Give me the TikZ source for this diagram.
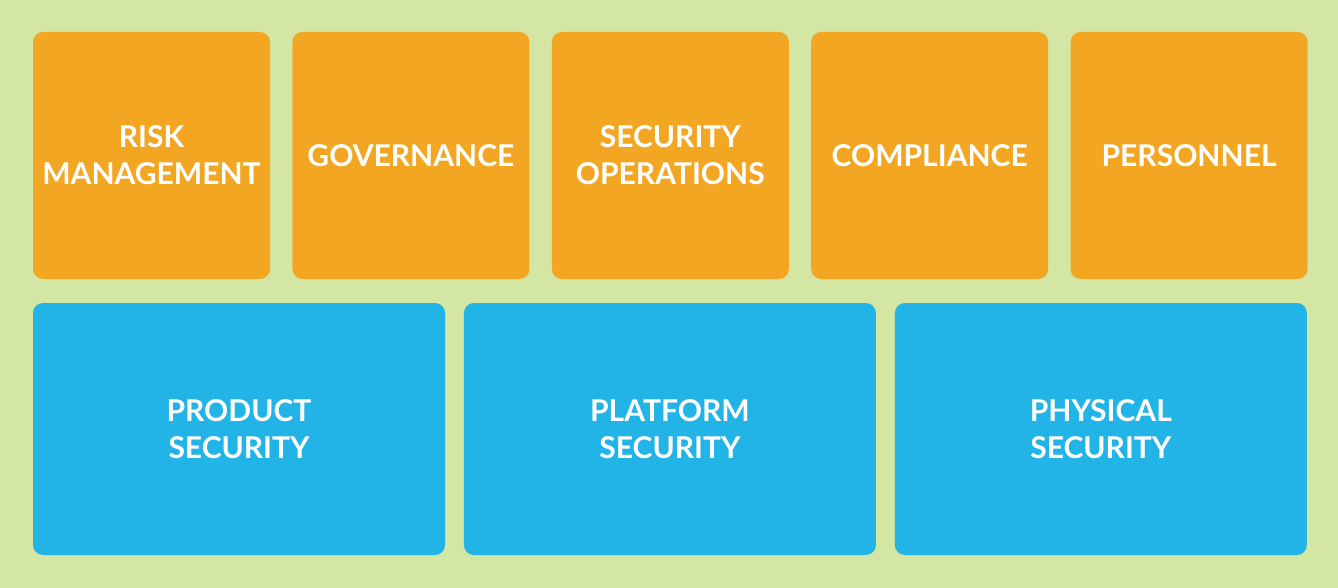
\documentclass[tikz,border=0pt]{standalone}
\usepackage{fontspec}
\setmainfont{Lato}
\usepackage{tikz}
\usetikzlibrary{positioning}

\definecolor{bggreen}{HTML}{D3E6A4}
\definecolor{areaorange}{HTML}{F3A621}
\definecolor{areablue}{HTML}{23B4E7}

\begin{document}
\begin{tikzpicture}[x=1pt, y=-1pt,
		area/.style={rounded corners=10pt, inner sep=0pt, align=center, text=white,
			font=\fontsize{30}{37}\selectfont\bfseries},
		top/.style={area, fill=areaorange, minimum width=237pt, minimum height=247pt},
		bottom/.style={area, fill=areablue, minimum width=412pt, minimum height=252pt}]
		\fill[bggreen] (0,0) rectangle (1338,588);
		% top row
		\node[top] (risk) at (151.5,155.5) {RISK\\MANAGEMENT};
		\node[top, right=22pt of risk] (gov) {GOVERNANCE};
		\node[top, right=22pt of gov] (secops) {SECURITY\\OPERATIONS};
		\node[top, right=22pt of secops] (comp) {COMPLIANCE};
		\node[top, right=22pt of comp] (pers) {PERSONNEL};
		% bottom row
		\node[bottom] (product) at (239,429) {PRODUCT\\SECURITY};
		\node[bottom, right=18.5pt of product] (platform) {PLATFORM\\SECURITY};
		\node[bottom, right=18.5pt of platform] (physical) {PHYSICAL\\SECURITY};
\end{tikzpicture}
\end{document}
